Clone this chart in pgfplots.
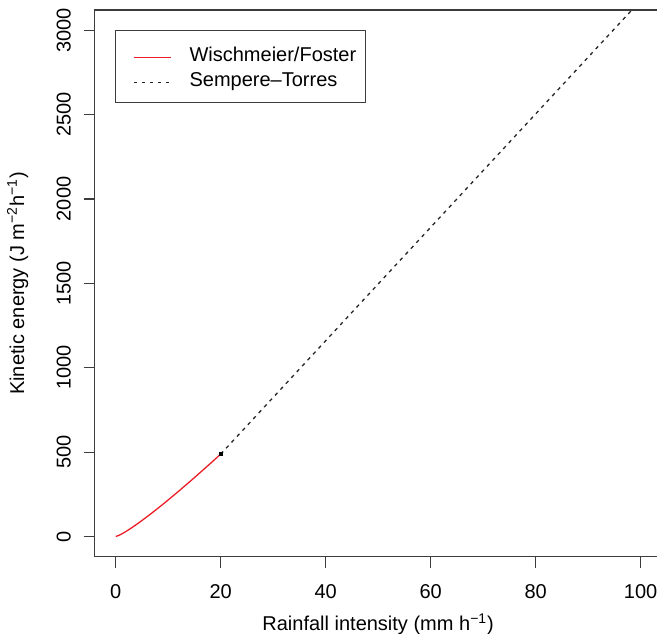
\documentclass[border=0pt]{standalone}
\usepackage{fontspec}
\setmainfont{Liberation Sans}
\usepackage{pgfplots}
\pgfplotsset{compat=1.18}
\definecolor{rred}{RGB}{235,30,40}
\definecolor{axgray}{RGB}{60,60,60}
\begin{document}
\begin{tikzpicture}
\begin{axis}[
  scale only axis,
  width=283.45pt, height=273.35pt,
  xmin=-4, xmax=104, ymin=-120, ymax=3120,
  axis line style={axgray, line width=0.55pt},
  xtick={0,20,40,60,80,100},
  ytick={0,500,1000,1500,2000,2500,3000},
  xtick pos=bottom, ytick pos=left,
  tick align=outside,
  major tick length=5.5pt,
  tick style={axgray, line width=0.55pt},
  /pgf/number format/assume math mode=true,
  /pgf/number format/1000 sep={},
  font=\fontsize{10}{12}\selectfont,
  xticklabel style={anchor=north, inner sep=0pt, yshift=-8pt},
  yticklabel style={xshift=-6.5pt, anchor=base, inner sep=0pt, rotate=90},
  xlabel={Rainfall intensity (mm h\textsuperscript{−1})},
  ylabel={Kinetic energy (J m\textsuperscript{−2}h\textsuperscript{−1})},
  xlabel style={at={(axis description cs:0.5,0)}, anchor=base, inner sep=0pt, yshift=-37pt},
  ylabel style={at={(axis description cs:-0.1245,0.5)}, anchor=base, inner sep=0pt},
  legend cell align=left,
  legend image code/.code={\path[draw=none] (0pt,-0.5pt) -- (23pt,0pt); \draw[#1, overlay] (4.5pt,-1.9pt) -- (23pt,-1.9pt);},
  legend style={at={(axis description cs:0,1)}, anchor=north west, xshift=10.15pt, yshift=-10pt,
    draw=axgray, line width=0.55pt, inner xsep=4.5pt, inner ysep=5.45pt, row sep=0.05pt,
    font=\fontsize{10}{12}\selectfont,
    nodes={inner sep=0pt, text height=10.05pt, text depth=2.4pt},
    /tikz/every odd column/.append style={column sep=9.5pt}},
]
\coordinate (sw) at (rel axis cs:0,0);
\coordinate (ne) at (rel axis cs:1,1);
\addplot[rred, line width=0.65pt] coordinates {
(0,0) (0.5,4.9) (1,12.5) (2,30.5) (3,50.5) (4,72.0) (5,94.4) (6,117.7) (7,141.6) (8,166.0) (9,191.0) (10,216.4) (12,268.4) (14,321.7) (16,376.2) (18,431.6) (20,488)
};
\addlegendentry{Wischmeier/Foster}
\addplot[black!85, line width=0.65pt, dash pattern=on 1.8pt off 2.2pt] coordinates {
(20,488) (30,824) (40,1160) (50,1496) (60,1832) (70,2168) (80,2504) (90,2840) (100,3176)
};
\addlegendentry{Sempere–Torres}
\addplot[only marks, mark=square*, mark size=0.8pt, black, forget plot] coordinates {(20,488)};
\end{axis}
\pgfresetboundingbox
\path[use as bounding box] ([xshift=-47.35pt,yshift=-38.15pt]sw) rectangle ([xshift=-2.3pt,yshift=5pt]ne);
\end{tikzpicture}
\end{document}
